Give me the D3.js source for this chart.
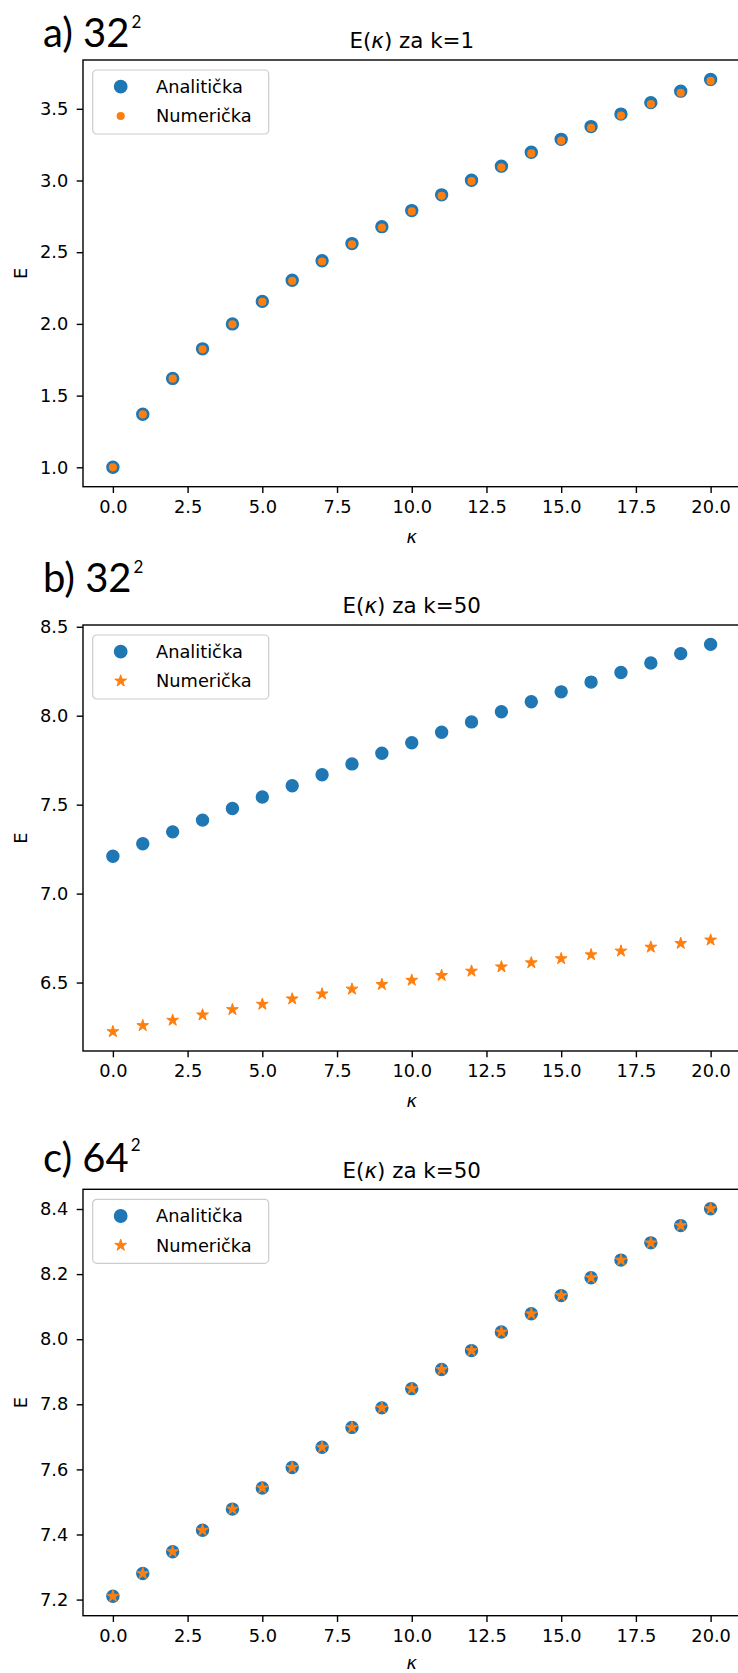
<!DOCTYPE html>
<html>
<head>
<meta charset="utf-8">
<script src="https://cdn.jsdelivr.net/npm/d3@7"></script>
<style>
  html, body { margin: 0; padding: 0; background: #fff; }
  svg { display: block; }
  text { font-family: "DejaVu Sans", sans-serif; fill: #000; }
</style>
</head>
<body>
<svg id="chart" width="738" height="1673"></svg>
<script>
// ---------------- data ----------------
const kappa = [0,1,2,3,4,5,6,7,8,9,10,11,12,13,14,15,16,17,18,19,20];
const xTicks = [0,2.5,5,7.5,10,12.5,15,17.5,20];

// panel a: 32^2, k=1
const aAnalytic = [1.0,1.370,1.620,1.826,2.000,2.157,2.304,2.440,2.560,2.678,2.790,2.900,3.002,3.100,3.197,3.287,3.376,3.463,3.543,3.623,3.705];
const aNumeric  = [1.0,1.369,1.618,1.823,1.997,2.153,2.300,2.435,2.555,2.672,2.784,2.893,2.995,3.092,3.189,3.278,3.367,3.453,3.533,3.612,3.694];
const aYTicks = [1.0,1.5,2.0,2.5,3.0,3.5];

// panel b: 32^2, k=50
const bAnalytic = [7.210,7.280,7.347,7.413,7.478,7.543,7.606,7.668,7.729,7.789,7.848,7.907,7.965,8.022,8.078,8.134,8.189,8.243,8.296,8.349,8.401];
const bNumeric  = [6.224,6.258,6.288,6.318,6.348,6.378,6.408,6.436,6.463,6.489,6.513,6.540,6.564,6.588,6.611,6.634,6.656,6.677,6.699,6.720,6.739];
const bYTicks = [6.5,7.0,7.5,8.0,8.5];

// panel c: 64^2, k=50
const cAnalytic = [7.210,7.280,7.347,7.413,7.478,7.543,7.606,7.668,7.729,7.789,7.848,7.907,7.965,8.022,8.078,8.134,8.189,8.243,8.296,8.349,8.401];
const cNumeric  = [7.210,7.280,7.347,7.413,7.478,7.543,7.606,7.668,7.729,7.789,7.848,7.907,7.965,8.022,8.078,8.134,8.189,8.243,8.296,8.349,8.401];
const cYTicks = [7.2,7.4,7.6,7.8,8.0,8.2,8.4];

const legendLabels = ["Analitička", "Numerička"];
const panelLabels = [["a) 32","2"],["b) 32","2"],["c) 64","2"]];
const titles = ["k=1","k=50","k=50"];

// ---------------- drawing ----------------
const BLUE = "#1f77b4", ORANGE = "#ff7f0e";
const svg = d3.select("#chart");

function starPath(R) {
  const r = R * 0.381966;
  const pts = [];
  for (let i = 0; i < 10; i++) {
    const ang = -Math.PI/2 + i * Math.PI/5;
    const rr = i % 2 === 0 ? R : r;
    pts.push([rr*Math.cos(ang), rr*Math.sin(ang)]);
  }
  return "M" + pts.map(p => p[0].toFixed(2)+","+p[1].toFixed(2)).join("L") + "Z";
}

const panels = [
  {top: 60,     bottom: 486.7,  labelY: 46.5,   supDy: -18.5, analytic: aAnalytic, numeric: aNumeric, yTicks: aYTicks, numMarker: "dot"},
  {top: 625,    bottom: 1051,   labelY: 592,    supDy: -19.5, analytic: bAnalytic, numeric: bNumeric, yTicks: bYTicks, numMarker: "star"},
  {top: 1189.3, bottom: 1615.7, labelY: 1171.7, supDy: -21,   analytic: cAnalytic, numeric: cNumeric, yTicks: cYTicks, numMarker: "star"}
];

const left = 83, right = 740.5;

panels.forEach((p, i) => {
  const g = svg.append("g");
  const x = d3.scaleLinear().domain([-1, 21]).range([left, right]);
  const all = p.analytic.concat(p.numeric);
  const [mn, mx] = d3.extent(all);
  const pad = (mx - mn) * 0.05;
  const y = d3.scaleLinear().domain([mn - pad, mx + pad]).range([p.bottom, p.top]);

  // panel label
  const lbl = g.append("text")
    .attr("x", 43).attr("y", p.labelY)
    .style("font-family", "Lato, 'Open Sans', sans-serif")
    .style("font-size", "40px");
  lbl.append("tspan").text(panelLabels[i][0]);
  lbl.append("tspan").attr("dx", 2).attr("dy", p.supDy).style("font-size", "17px").text(panelLabels[i][1]);

  // title
  const t = g.append("text")
    .attr("x", (left + right) / 2).attr("y", p.top - 11.7)
    .attr("text-anchor", "middle")
    .style("font-size", "21.4px");
  t.append("tspan").text("E(");
  t.append("tspan").style("font-style", "italic").text("κ");
  t.append("tspan").text(") za " + titles[i]);

  // axes
  const xAxis = d3.axisBottom(x).tickValues(xTicks).tickFormat(d3.format(".1f")).tickSize(6.3).tickPadding(7.5);
  const yAxis = d3.axisLeft(y).tickValues(p.yTicks).tickFormat(d3.format(".1f")).tickSize(6.3).tickPadding(8.5);

  const gx = g.append("g").attr("transform", `translate(0,${p.bottom})`).call(xAxis);
  const gy = g.append("g").attr("transform", `translate(${left},0)`).call(yAxis);
  [gx, gy].forEach(a => {
    a.select(".domain").remove();
    a.selectAll(".tick line").attr("stroke", "#000").attr("stroke-width", 1.4);
    a.selectAll(".tick text").style("font-size", "17.8px").style("font-family", "'DejaVu Sans', sans-serif").attr("fill", "#000");
  });

  // frame
  g.append("rect")
    .attr("x", left).attr("y", p.top)
    .attr("width", right - left).attr("height", p.bottom - p.top)
    .attr("fill", "none").attr("stroke", "#000").attr("stroke-width", 1.4);

  // axis labels
  g.append("text")
    .attr("x", (left + right) / 2).attr("y", Math.min(p.bottom + 56, 1669))
    .attr("text-anchor", "middle")
    .style("font-size", "17.8px").style("font-style", "italic")
    .text("κ");
  g.append("text")
    .attr("transform", `translate(27,${(p.top + p.bottom) / 2}) rotate(-90)`)
    .attr("text-anchor", "middle")
    .style("font-size", "17.8px")
    .text("E");

  // marks
  g.append("g").selectAll("circle").data(kappa).join("circle")
    .attr("cx", d => x(d)).attr("cy", (d, j) => y(p.analytic[j]))
    .attr("r", 6).attr("fill", BLUE).attr("stroke", BLUE).attr("stroke-width", 1.4);

  if (p.numMarker === "dot") {
    g.append("g").selectAll("circle").data(kappa).join("circle")
      .attr("cx", d => x(d)).attr("cy", (d, j) => y(p.numeric[j]))
      .attr("r", 4.1).attr("fill", ORANGE);
  } else {
    g.append("g").selectAll("path").data(kappa).join("path")
      .attr("d", starPath(6.2))
      .attr("transform", (d, j) => `translate(${x(d)},${y(p.numeric[j])})`)
      .attr("fill", ORANGE).attr("stroke", ORANGE).attr("stroke-width", 1).attr("stroke-linejoin", "round");
  }

  // legend
  const lg = g.append("g").attr("transform", `translate(92.7,${p.top + 10})`);
  lg.append("rect").attr("width", 176).attr("height", 64).attr("rx", 4)
    .attr("fill", "#fff").attr("fill-opacity", 0.8).attr("stroke", "#cccccc").attr("stroke-width", 1.2);
  lg.append("circle").attr("cx", 28).attr("cy", 16.7).attr("r", 6.2).attr("fill", BLUE).attr("stroke", BLUE).attr("stroke-width", 1.4);
  if (p.numMarker === "dot") {
    lg.append("circle").attr("cx", 28).attr("cy", 46).attr("r", 4.1).attr("fill", ORANGE);
  } else {
    lg.append("path").attr("d", starPath(6.2)).attr("transform", "translate(28,46)")
      .attr("fill", ORANGE).attr("stroke", ORANGE).attr("stroke-width", 1).attr("stroke-linejoin", "round");
  }
  legendLabels.forEach((s, j) => {
    lg.append("text").attr("x", 63.3).attr("y", 16.7 + j * 29.3).attr("dy", "0.36em")
      .style("font-size", "17.8px").text(s);
  });
});
</script>
</body>
</html>
